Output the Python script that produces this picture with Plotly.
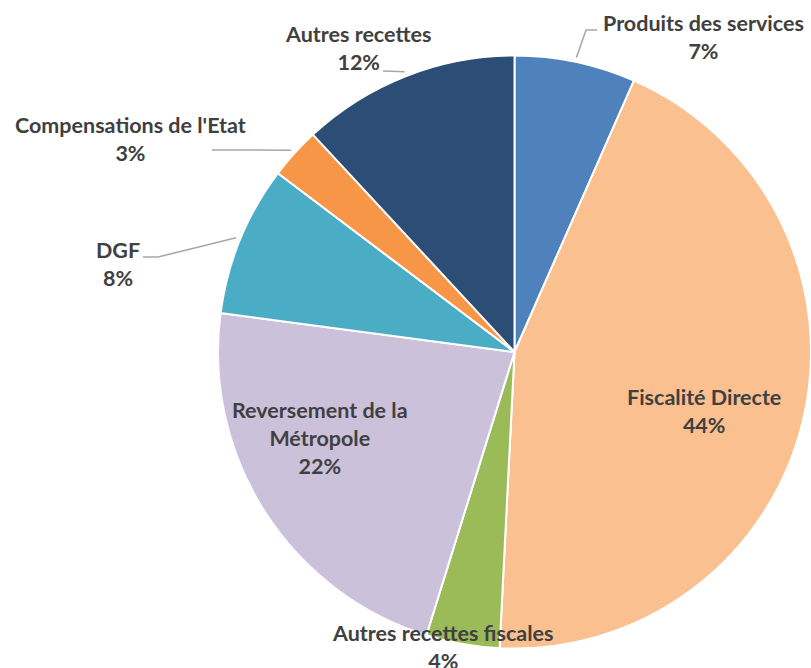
import math
import plotly.graph_objects as go

labels = ["Produits des services", "Fiscalité Directe", "Autres recettes fiscales",
          "Reversement de la Métropole", "DGF", "Compensations de l'Etat", "Autres recettes"]
values = [6.6, 44.2, 4.0, 22.3, 8.2, 2.8, 11.9]
colors = ["#4F81BD", "#FAC090", "#9BBB59", "#CCC1DA", "#4BACC6", "#F79646", "#2C4D75"]
label_lines = [["Produits des services"], ["Fiscalité Directe"], ["Autres recettes fiscales"],
               ["Reversement de la", "Métropole"], ["DGF"], ["Compensations de l'Etat"], ["Autres recettes"]]

W, H = 811, 668
# pie geometry (pixels)
CX, CY, R = 514.5, 352.0, 296.5
# label block centres (pixels)
label_pos = [(703, 37), (704, 411), (443, 647), (320, 438), (118, 264), (130, 139), (358, 48)]
# leader line routes (after anchor), None = no leader
leader_routes = [[(586, 30), (597, 30)], None, None, None, [(158, 257), (143, 257)],
                 [(212, 150)], [(383, 71)]]

def px(x):
    return x / W

def py(y):
    return 1 - y / H

fig = go.Figure(go.Pie(
    labels=labels, values=values, sort=False, direction="clockwise", rotation=0,
    marker=dict(colors=colors, line=dict(color="white", width=2)),
    textinfo="none", hoverinfo="label+percent", showlegend=False,
    domain=dict(x=[px(CX - R), min(1.0, px(CX + R))], y=[py(CY + R), py(CY - R)]),
))

total = sum(values)
cum = 0.0
annotations = []
shapes = []
for i, v in enumerate(values):
    pct = round(v / total * 100)
    mid = (cum + v / 2) / total * 2 * math.pi
    cum += v
    text = "<br>".join(f"<b>{t}</b>" for t in label_lines[i] + [f"{pct}%"])
    lx, ly = label_pos[i]
    annotations.append(dict(x=px(lx), y=py(ly), xref="paper", yref="paper", text=text,
                            showarrow=False, xanchor="center", yanchor="middle",
                            font=dict(family="Lato", size=21.5, color="#404040")))
    if leader_routes[i]:
        ax = CX + 1.015 * R * math.sin(mid)
        ay = CY - 1.015 * R * math.cos(mid)
        pts = [(ax, ay)] + leader_routes[i]
        path = "M " + " L ".join(f"{px(x):.5f},{py(y):.5f}" for x, y in pts)
        shapes.append(dict(type="path", path=path, xref="paper", yref="paper",
                           line=dict(color="#A6A6A6", width=1.5)))

fig.update_layout(width=W, height=H, margin=dict(l=0, r=0, t=0, b=0),
                  paper_bgcolor="white", plot_bgcolor="white",
                  annotations=annotations, shapes=shapes)
fig.write_html("out.html")
